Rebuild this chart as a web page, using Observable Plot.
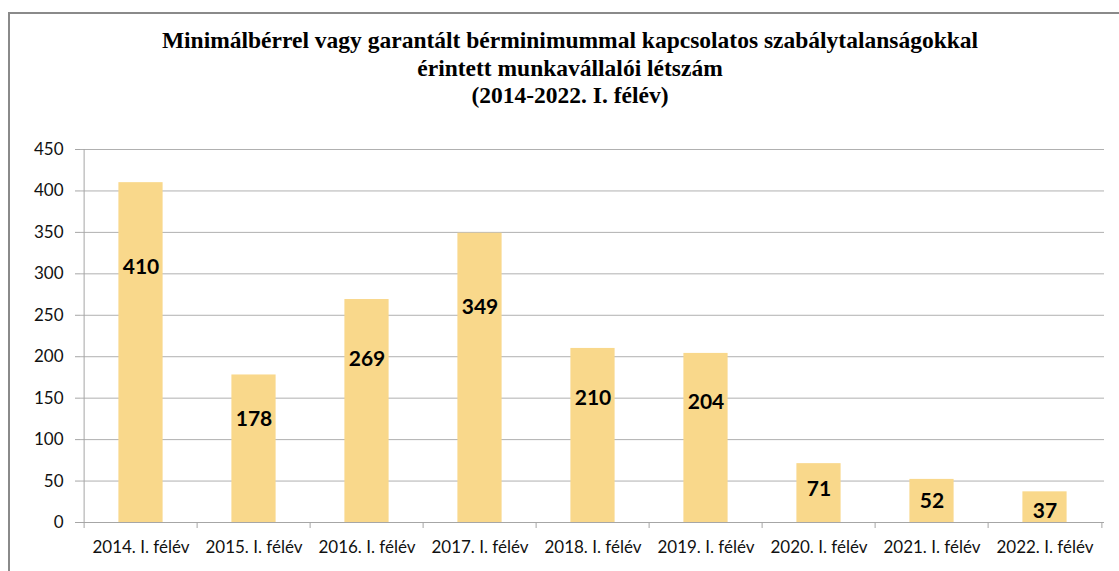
<!DOCTYPE html>
<html>
<head>
<meta charset="utf-8">
<script src="https://cdn.jsdelivr.net/npm/d3@7"></script>
<script src="https://cdn.jsdelivr.net/npm/@observablehq/plot@0.6"></script>
<style>
  body { margin: 0; background: #fff; }
  #wrap { position: relative; width: 1119px; height: 571px; overflow: hidden; background: #fff; }
  #frame { position: absolute; left: 8px; top: 12px; width: 1200px; height: 700px;
           border-left: 2px solid #8a8a8a; border-top: 2px solid #8a8a8a; }
  #title { position: absolute; left: 0; top: 27px; width: 1140px; text-align: center;
           font-family: "Liberation Serif", "Times New Roman", serif; font-weight: bold;
           font-size: 23.5px; line-height: 27.5px; color: #000; }
  #chart { position: absolute; left: 0; top: 120px; }
</style>
</head>
<body>
<div id="wrap">
  <div id="frame"></div>
  <div id="title">
    <div>Minimálbérrel vagy garantált bérminimummal kapcsolatos szabálytalanságokkal</div>
    <div>érintett munkavállalói létszám</div>
    <div>(2014-2022. I. félév)</div>
  </div>
  <div id="chart"></div>
</div>
<script>
const categories = ["2014. I. félév", "2015. I. félév", "2016. I. félév", "2017. I. félév",
  "2018. I. félév", "2019. I. félév", "2020. I. félév", "2021. I. félév", "2022. I. félév"];
const values = [410, 178, 269, 349, 210, 204, 71, 52, 37];
const yTicks = [0, 50, 100, 150, 200, 250, 300, 350, 400, 450];

const data = categories.map((c, i) => ({category: c, value: values[i]}));

const W = 1119, H = 451, ml = 80, mr = 15, mt = 29, mb = 49;
const step = (W - ml - mr) / categories.length;
const gray = "#a6a6a6";

const chart = Plot.plot({
  width: W, height: H,
  marginLeft: ml, marginRight: mr, marginTop: mt, marginBottom: mb,
  style: {fontFamily: "Lato, 'Noto Sans', sans-serif", fontSize: "17px", color: "#111", background: "transparent"},
  x: {domain: categories, padding: 0, label: null, axis: null},
  y: {domain: [0, 450], label: null, axis: null},
  marks: [
    Plot.gridY(yTicks, {stroke: "#b0b0b0", strokeOpacity: 1}),
    Plot.barY(data, {x: "category", y: "value", fill: "#f9d88b", insetLeft: 34.4, insetRight: 34.4}),
    Plot.ruleY([0], {stroke: gray}),
    Plot.ruleX([categories[0]], {dx: -step / 2, stroke: gray}),
    Plot.axisY(yTicks, {tickSize: 5, tickFormat: () => "", stroke: gray, label: null}),
    Plot.axisY(yTicks, {tickSize: 0, tickPadding: 17, fontSize: 17, label: null}),
    Plot.axisX({tickSize: 0, tickPadding: 18, fontSize: 17, label: null}),
    Plot.axisX({tickSize: 6, tickFormat: () => "", dx: -step / 2, stroke: gray, label: null}),
    Plot.axisX([categories[categories.length - 1]], {tickSize: 6, tickFormat: () => "", dx: step / 2, stroke: gray, label: null}),
    Plot.text(data, {x: "category", y: d => d.value * 0.79 - 16, text: d => String(d.value),
      fontWeight: "bold", fontSize: 21, fill: "#000"})
  ]
});
document.getElementById("chart").appendChild(chart);
</script>
</body>
</html>
